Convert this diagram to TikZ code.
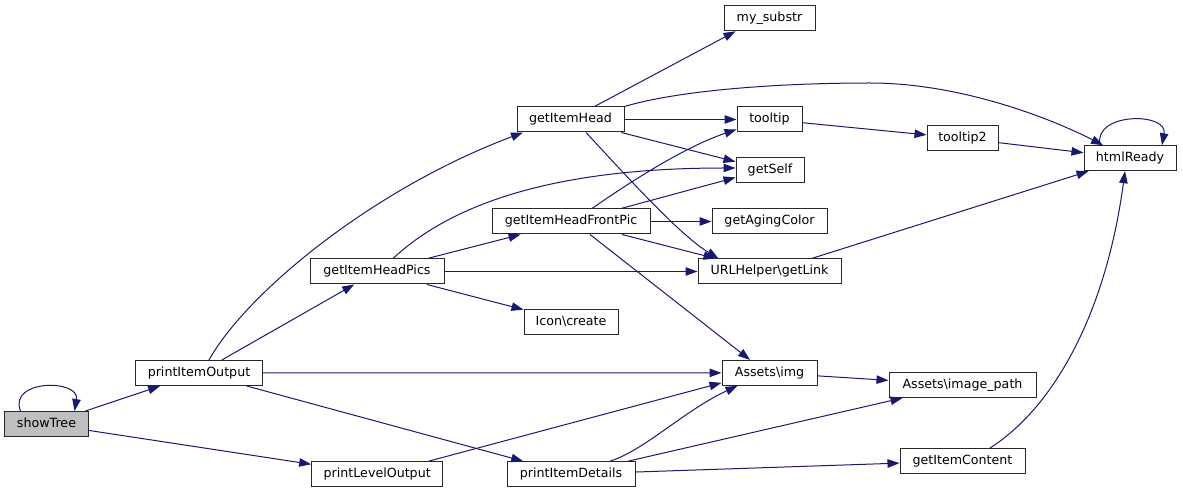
\documentclass[tikz,border=0pt]{standalone}
\usepackage{fontspec}
\setmainfont{DejaVu Sans}
\usetikzlibrary{arrows.meta}
\definecolor{edgec}{RGB}{25,25,112}
\definecolor{hl}{RGB}{191,191,191}
\definecolor{boxc}{RGB}{40,40,40}
\begin{document}
\begin{tikzpicture}[x=1bp,y=-1bp,
  box/.style={draw=boxc, line width=1bp, fill=white, inner sep=0pt,
    minimum height=25bp, text height=9.5bp, text depth=2.5bp,
    font=\fontsize{12.7}{15}\selectfont},
  e/.style={draw=edgec, line width=1bp, -{Triangle[length=12bp,width=8.5bp]}}]
\fill[white] (0,0) rectangle (1183,493);
\useasboundingbox (0,0) rectangle (1183,493);

\node[box, minimum width=83bp, fill=hl] (showTree) at (46.5,424) {showTree};
\node[box, minimum width=127bp] (pio) at (199,373) {printItemOutput};
\node[box, minimum width=131bp] (plo) at (377.2,474.3) {printLevelOutput};
\node[box, minimum width=134bp] (gihp) at (377,271.5) {getItemHeadPics};
\node[box, minimum width=107bp] (gih) at (570.5,119.5) {getItemHead};
\node[box, minimum width=91bp] (mys) at (769.5,18.3) {my\_substr};
\node[box, minimum width=65bp] (tt) at (769.5,119.5) {tooltip};
\node[box, minimum width=68bp] (gs) at (770,170.5) {getSelf};
\node[box, minimum width=158bp] (gihfp) at (571,221.5) {getItemHeadFrontPic};
\node[box, minimum width=115bp] (gac) at (769.5,221.5) {getAgingColor};
\node[box, minimum width=143bp] (url) at (769.5,271.5) {URLHelper\textbackslash getLink};
\node[box, minimum width=94bp] (icon) at (571,322) {Icon\textbackslash create};
\node[box, minimum width=71bp] (tt2) at (962.5,138.4) {tooltip2};
\node[box, minimum width=92bp] (html) at (1130,158.2) {htmlReady};
\node[box, minimum width=95bp] (aimg) at (769.5,372.85) {Assets\textbackslash img};
\node[box, minimum width=147bp] (aip) at (962.5,385) {Assets\textbackslash image\_path};
\node[box, minimum width=128bp] (pid) at (571,474.2) {printItemDetails};
\node[box, minimum width=125bp] (gic) at (962.5,461) {getItemContent};

% showTree
\draw[e] ([xshift=-26bp]showTree.north) .. controls (8,379) and (80,379) .. ([xshift=28bp]showTree.north);
\draw[e] (showTree) -- (pio);
\draw[e] (showTree) -- (plo);
% printItemOutput
\draw[e] ([xshift=10bp]pio.north) .. controls (245,295) and (370,190) .. ([xshift=-47.5bp]gih.south);
\draw[e] (pio) -- (gihp);
\draw[e] (pio) -- (aimg);
\draw[e] (pio) -- (pid);
% printLevelOutput
\draw[e] ([xshift=51bp]plo.north) -- ([yshift=3bp]aimg.south west);
% getItemHeadPics
\draw[e] ([xshift=16bp]gihp.north) .. controls (445,210) and (540,168) .. ([yshift=2.5bp]gs.west);
\draw[e] (gihp) -- (gihfp);
\draw[e] (gihp) -- (url);
\draw[e] (gihp) -- (icon);
% getItemHead
\draw[e] ([xshift=24bp]gih.north) -- ([xshift=-34bp]mys.south);
\draw[e] (gih.north east) .. controls (680,90) and (780,83) .. (870,83) .. controls (960,83) and (1050,118) .. ([xshift=-27bp]html.north);
\draw[e] (gih) -- (tt);
\draw[e] (gih) -- (gs);
\draw[e] ([xshift=15.5bp]gih.south) .. controls (630,180) and (680,235) .. ([xshift=-51bp]url.north);
% getItemHeadFrontPic
\draw[e] ([xshift=21bp]gihfp.north) .. controls (640,175) and (690,145) .. ([yshift=3bp]tt.south west);
\draw[e] ([xshift=50bp]gihfp.north) -- ([yshift=-7bp]gs.west);
\draw[e] (gihfp) -- (gac);
\draw[e] ([xshift=51bp]gihfp.south) -- ([xshift=-54bp]url.north);
\draw[e] ([xshift=19bp]gihfp.south) -- ([xshift=-19.5bp]aimg.north);
% tooltip
\draw[e] (tt) -- (tt2);
\draw[e] (tt2) -- (html);
% htmlReady
\draw[e] ([xshift=-30bp]html.north) .. controls (1093,112) and (1168,112) .. ([xshift=32bp]html.north);
% URLHelper
\draw[e] ([xshift=42bp]url.north) -- ([xshift=5bp]html.south west);
% Assets
\draw[e] (aimg) -- (aip);
% printItemDetails
\draw[e] ([xshift=39bp]pid.north) .. controls (645,450) and (685,410) .. ([xshift=-32bp]aimg.south);
\draw[e] ([xshift=57bp]pid.north) -- ([xshift=-60bp]aip.south);
\draw[e] (pid) -- (gic);
% getItemContent
\draw[e] ([xshift=27.5bp]gic.north) .. controls (1050,410) and (1105,320) .. ([xshift=-5bp]html.south);
\end{tikzpicture}
\end{document}
